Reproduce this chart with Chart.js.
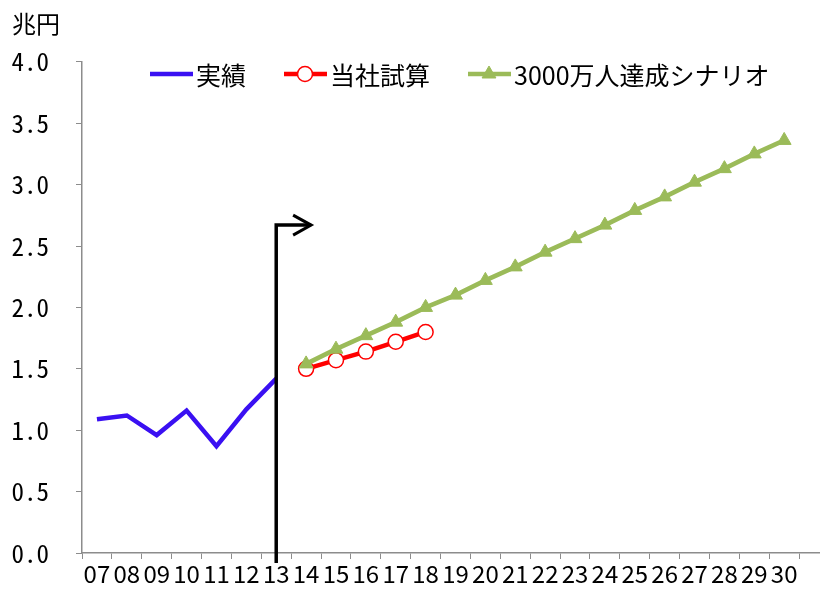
<!DOCTYPE html>
<html>
<head>
<meta charset="utf-8">
<script src="https://cdn.jsdelivr.net/npm/chart.js@4.4.1/dist/chart.umd.min.js"></script>
<style>
    html, body { margin: 0; padding: 0; background: #fff; overflow: hidden; }
    #wrap { width: 820px; height: 595px; overflow: hidden; }
</style>
</head>
<body>
<div id="wrap"><canvas id="graph" width="838" height="595"></canvas></div>
<script>
// Annees (la derniere categorie est vide, l'axe continue hors cadre)
const years = ['07', '08', '09', '10', '11', '12', '13', '14', '15', '16', '17', '18',
    '19', '20', '21', '22', '23', '24', '25', '26', '27', '28', '29', '30', ''];

// 実績 : 07 -> 13
const actual = [1.09, 1.12, 0.96, 1.16, 0.87, 1.17, 1.42];
// 当社試算 : 14 -> 18
const estimate = [1.50, 1.57, 1.64, 1.72, 1.80];
// 3000万人達成シナリオ : 14 -> 30
const scenario = [1.54, 1.66, 1.77, 1.88, 2.00, 2.10, 2.22, 2.33, 2.45, 2.56,
    2.67, 2.79, 2.90, 3.02, 3.13, 3.25, 3.36];

const yTicks = [0, 0.5, 1, 1.5, 2, 2.5, 3, 3.5, 4];

const seriesNames = ['実績', '当社試算', '3000万人達成シナリオ'];
const unitLabel = '兆円';

// hauteur de la fleche (en valeur de l'axe y)
const arrowLevel = 2.67;

const CJK = '"Noto Sans CJK JP", "Noto Sans", sans-serif';

// Place une serie a partir d'un index de depart
function placeAt(values, startIndex) {
    let out = years.map(() => null);
    values.forEach((v, i) => { out[startIndex + i] = v; });
    return out;
}

// Legende dessinee a la main (trait + marqueur au milieu)
const legendPlugin = {
    id: 'lineLegend',
    afterDraw(chart) {
        const ctx = chart.ctx;
        let x = 150;
        const y = 74;
        ctx.save();
        ctx.font = '25px ' + CJK;
        ctx.textBaseline = 'middle';
        chart.data.datasets.forEach(ds => {
            ctx.strokeStyle = ds.borderColor;
            ctx.lineWidth = ds.borderWidth;
            ctx.beginPath();
            ctx.moveTo(x, y);
            ctx.lineTo(x + 43, y);
            ctx.stroke();
            if (ds.pointRadius > 0) {
                ctx.fillStyle = ds.pointBackgroundColor;
                ctx.strokeStyle = ds.pointBorderColor;
                ctx.lineWidth = ds.pointBorderWidth;
                Chart.helpers.drawPoint(ctx, {
                    pointStyle: ds.pointStyle,
                    radius: ds.pointRadius,
                    rotation: 0,
                    borderWidth: ds.pointBorderWidth
                }, x + 21, y);
            }
            ctx.fillStyle = '#000';
            ctx.fillText(ds.label, x + 46, y + 1);
            x = x + 46 + ctx.measureText(ds.label).width + 38;
        });
        ctx.restore();
    }
};

// Fleche noire : trait vertical sur 13 puis vers la droite
const arrowPlugin = {
    id: 'arrow',
    afterDatasetsDraw(chart) {
        const ctx = chart.ctx;
        const xs = chart.scales.x;
        const ys = chart.scales.y;
        const x0 = xs.getPixelForValue(6);
        const x1 = xs.getPixelForValue(7) + 5;
        const yTop = ys.getPixelForValue(arrowLevel);
        const yBot = chart.chartArea.bottom + 10;
        ctx.save();
        ctx.strokeStyle = '#000';
        ctx.lineWidth = 3.5;
        ctx.lineJoin = 'miter';
        ctx.beginPath();
        ctx.moveTo(x0, yBot);
        ctx.lineTo(x0, yTop);
        ctx.lineTo(x1, yTop);
        ctx.stroke();
        ctx.lineWidth = 3;
        ctx.beginPath();
        ctx.moveTo(x1 - 18, yTop - 10);
        ctx.lineTo(x1, yTop);
        ctx.lineTo(x1 - 18, yTop + 10);
        ctx.stroke();
        ctx.restore();
    }
};

window.onload = function () {
    new Chart(document.getElementById('graph'), {
        type: 'line',
        data: {
            labels: years,
            datasets: [
                {
                    label: seriesNames[0],
                    data: placeAt(actual, 0),
                    borderColor: '#3a10f2',
                    borderWidth: 4.5,
                    pointRadius: 0,
                    tension: 0,
                    order: 2
                },
                {
                    label: seriesNames[1],
                    data: placeAt(estimate, 7),
                    borderColor: '#ff0000',
                    borderWidth: 4.5,
                    pointStyle: 'circle',
                    pointRadius: 7.5,
                    pointBackgroundColor: '#ffffff',
                    pointBorderColor: '#ff0000',
                    pointBorderWidth: 1.5,
                    tension: 0,
                    order: 1
                },
                {
                    label: seriesNames[2],
                    data: placeAt(scenario, 7),
                    borderColor: '#9bbb59',
                    borderWidth: 4.5,
                    pointStyle: 'triangle',
                    pointRadius: 8,
                    pointBackgroundColor: '#9bbb59',
                    pointBorderColor: '#9bbb59',
                    pointBorderWidth: 1,
                    tension: 0,
                    order: 0
                }
            ]
        },
        options: {
            responsive: false,
            animation: false,
            devicePixelRatio: 1,
            layout: { padding: { left: 12, right: 2, top: 0, bottom: 0 } },
            plugins: {
                legend: { display: false },
                tooltip: { enabled: false },
                title: {
                    display: true,
                    text: unitLabel,
                    align: 'start',
                    color: '#000',
                    font: { family: CJK, size: 24, weight: 'normal' },
                    padding: { top: 9, bottom: 24 }
                }
            },
            scales: {
                x: {
                    offset: true,
                    grid: {
                        display: true,
                        offset: true,
                        drawOnChartArea: false,
                        drawTicks: true,
                        tickLength: 6,
                        color: '#8c8c8c'
                    },
                    border: { color: '#8c8c8c', width: 1.5 },
                    ticks: {
                        color: '#000',
                        autoSkip: false,
                        maxRotation: 0,
                        padding: 0,
                        font: { family: CJK, size: 24 }
                    }
                },
                y: {
                    min: 0,
                    max: 4,
                    afterBuildTicks(axis) {
                        axis.ticks = yTicks.map(v => ({ value: v }));
                    },
                    afterFit(axis) {
                        axis.width = 70;
                    },
                    grid: {
                        display: true,
                        drawOnChartArea: false,
                        drawTicks: true,
                        tickLength: 6,
                        color: '#8c8c8c'
                    },
                    border: { color: '#8c8c8c', width: 1.5 },
                    ticks: {
                        color: '#000',
                        padding: 27,
                        font: { family: '"Noto Sans Mono CJK JP", "Noto Sans CJK JP", monospace', size: 25 },
                        callback: v => Number(v).toFixed(1)
                    }
                }
            }
        },
        plugins: [legendPlugin, arrowPlugin]
    });
};
</script>
</body>
</html>
